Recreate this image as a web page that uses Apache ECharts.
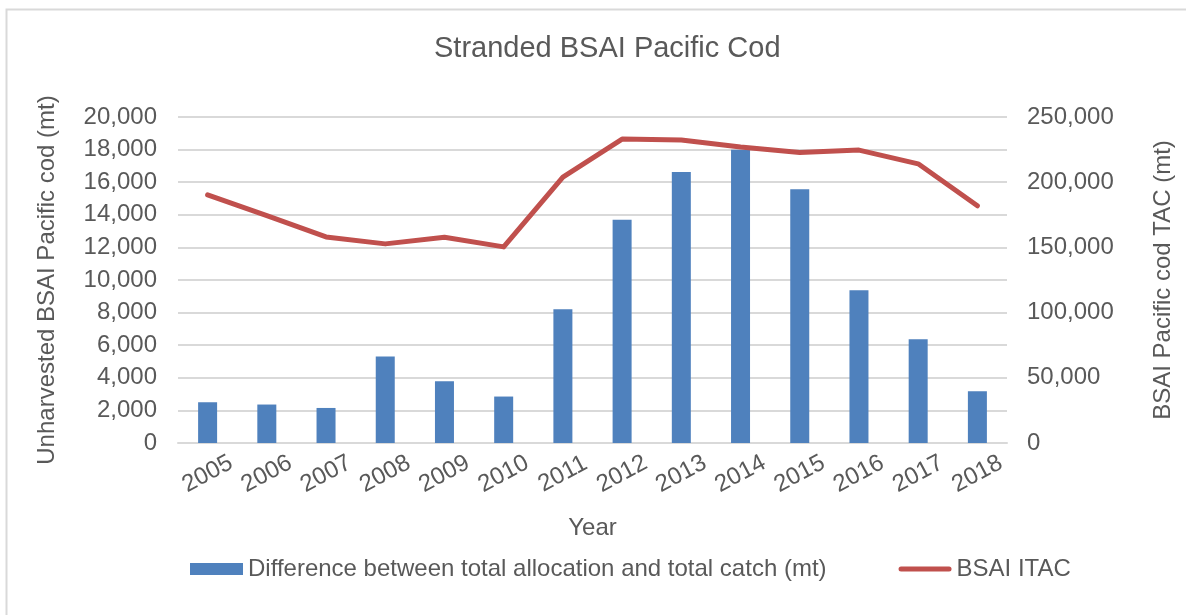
<!DOCTYPE html>
<html>
<head>
<meta charset="utf-8">
<script src="https://cdn.jsdelivr.net/npm/echarts@6/dist/echarts.min.js"></script>
<style>
    html, body { margin: 0; padding: 0; background: #fff; }
    #chart { width: 1186px; height: 615px; }
</style>
</head>
<body>
<div id="chart"></div>
<script>
// values
var years = ['2005', '2006', '2007', '2008', '2009', '2010', '2011', '2012', '2013', '2014', '2015', '2016', '2017', '2018']
var unharvested = [2500, 2360, 2150, 5310, 3790, 2850, 8200, 13690, 16620, 17990, 15570, 9370, 6370, 3180]
var itac = [190300, 174400, 158000, 152700, 157800, 150400, 203900, 233100, 232300, 227000, 222800, 224600, 214100, 181900]

var textColor = '#595959'
var font = 'Liberation Sans, Arial, sans-serif'

var chart = echarts.init(document.getElementById('chart'))

function commas(v) {
    return Number(v).toLocaleString('en-US')
}

chart.setOption({
    animation: false,
    textStyle: { fontFamily: font, color: textColor },
    graphic: [{
        type: 'rect',
        shape: { x: 6.5, y: 9.5, width: 1200, height: 620 },
        style: { fill: null, stroke: '#D9D9D9', lineWidth: 2 },
        silent: true
    }],
    title: {
        text: 'Stranded BSAI Pacific Cod',
        left: 429,
        top: 29,
        textStyle: { fontSize: 29, fontWeight: 'normal', color: textColor, fontFamily: font }
    },
    legend: {
        left: 185,
        top: 552,
        itemWidth: 53,
        itemHeight: 12,
        itemGap: 72,
        textStyle: { fontSize: 24, color: textColor, fontFamily: font },
        data: [
            { name: 'Difference between total allocation and total catch (mt)', icon: 'rect' },
            {
                name: 'BSAI ITAC',
                // thick rounded stroke like the line itself
                icon: 'path://M2.5,0H50.5A2.5,2.5,0,0,1,50.5,5H2.5A2.5,2.5,0,0,1,2.5,0Z'
            }
        ]
    },
    grid: {
        left: 178,
        right: 179,
        top: 117,
        bottom: 172
    },
    xAxis: {
        type: 'category',
        data: years,
        name: 'Year',
        nameLocation: 'middle',
        nameGap: 73,
        nameTextStyle: { fontSize: 24, color: textColor },
        axisLine: { lineStyle: { color: '#D9D9D9', width: 2 } },
        axisTick: { show: false },
        axisLabel: {
            rotate: 28,
            margin: 31,
            align: 'center',
            verticalAlign: 'middle',
            fontSize: 24,
            color: textColor,
            interval: 0
        }
    },
    yAxis: [{
        type: 'value',
        min: 0,
        max: 20000,
        interval: 2000,
        name: 'Unharvested BSAI Pacific cod (mt)',
        nameLocation: 'middle',
        nameRotate: 90,
        nameGap: 119,
        nameTextStyle: { fontSize: 24, color: textColor },
        axisLine: { show: false },
        axisTick: { show: false },
        axisLabel: { fontSize: 24, color: textColor, margin: 21, formatter: commas },
        splitLine: { lineStyle: { color: '#D9D9D9', width: 2 } }
    }, {
        type: 'value',
        min: 0,
        max: 250000,
        interval: 50000,
        name: 'BSAI Pacific cod TAC (mt)',
        nameLocation: 'middle',
        nameRotate: 90,
        nameGap: 144,
        nameTextStyle: { fontSize: 24, color: textColor },
        axisLine: { show: false },
        axisTick: { show: false },
        axisLabel: { fontSize: 24, color: textColor, margin: 20, formatter: commas },
        splitLine: { show: false }
    }],
    series: [{
        name: 'Difference between total allocation and total catch (mt)',
        type: 'bar',
        yAxisIndex: 0,
        barWidth: 19,
        itemStyle: { color: '#4F81BD' },
        data: unharvested
    }, {
        name: 'BSAI ITAC',
        type: 'line',
        yAxisIndex: 1,
        symbol: 'none',
        lineStyle: { color: '#C0504D', width: 5, cap: 'round', join: 'round' },
        itemStyle: { color: '#C0504D' },
        data: itac
    }]
})
</script>
</body>
</html>
